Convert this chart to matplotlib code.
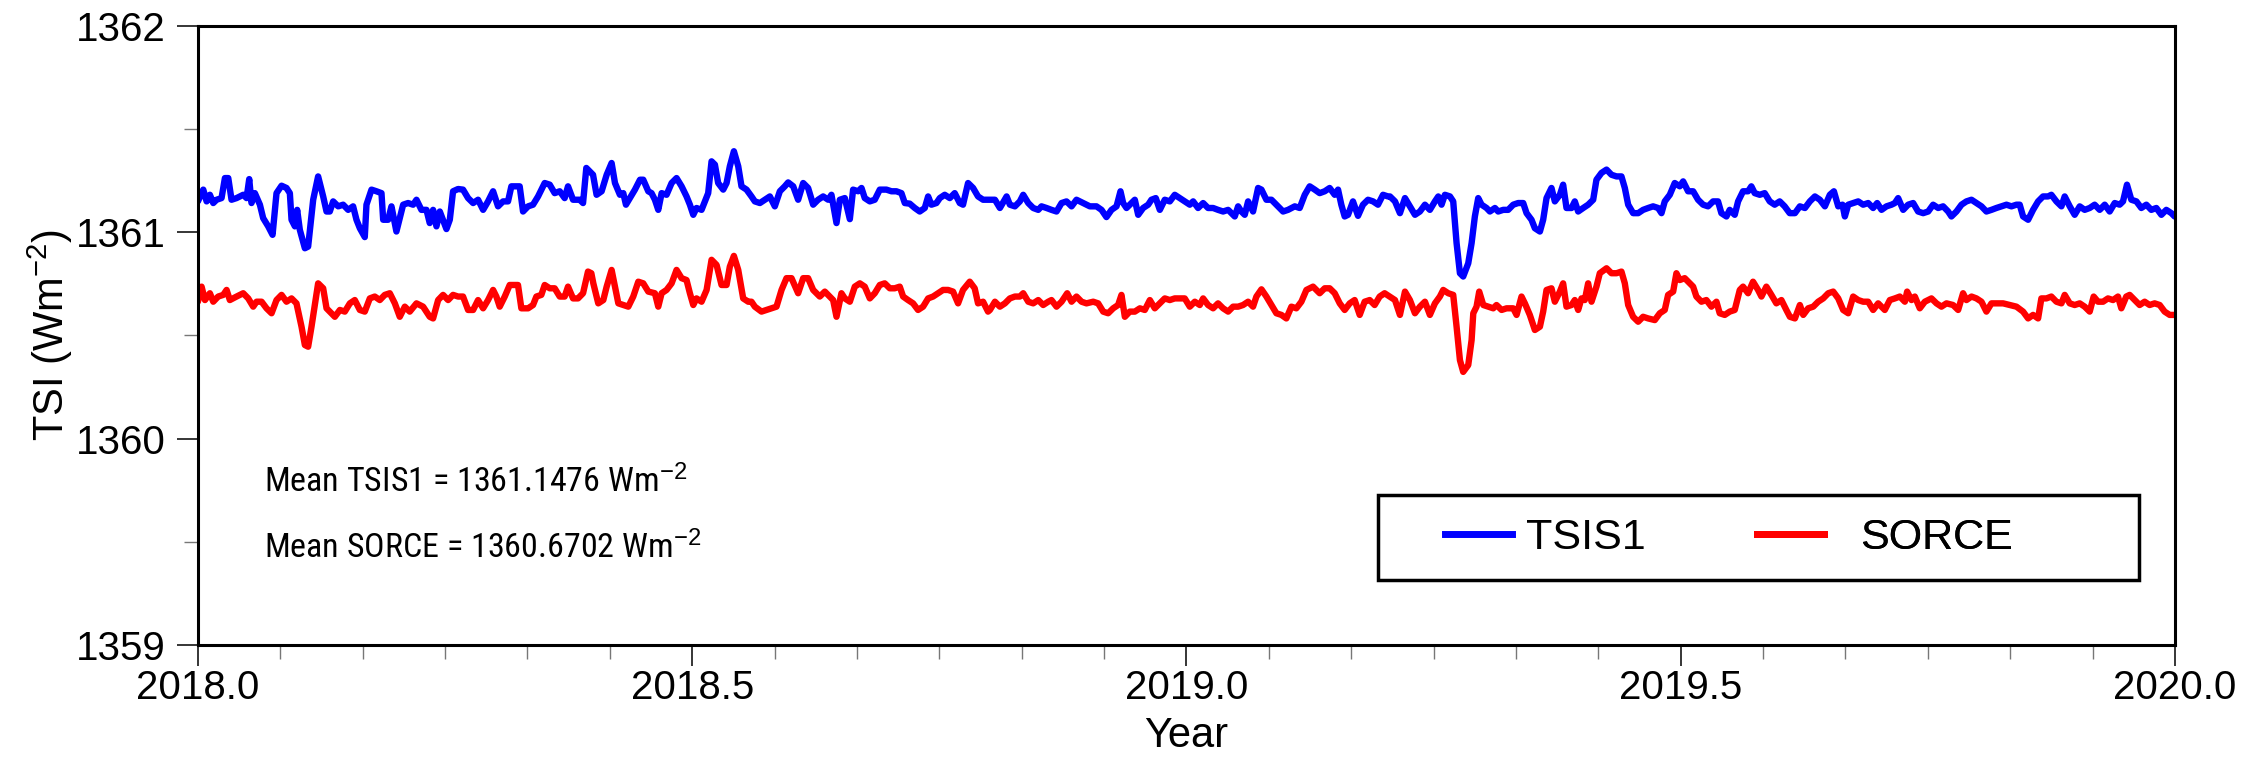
import matplotlib
matplotlib.use("Agg")
import matplotlib.pyplot as plt
from matplotlib import font_manager as fm
from matplotlib.ticker import MultipleLocator, FormatStrFormatter
from matplotlib.patches import Rectangle
from matplotlib.lines import Line2D

# ---------------- data ----------------
tsis_year = [
2018.0000,2018.0054,2018.0088,2018.0121,2018.0155,2018.0189,2018.0239,2018.0273,2018.0307,2018.0340,
2018.0391,2018.0458,2018.0492,2018.0519,2018.0542,2018.0576,2018.0627,2018.0660,2018.0711,2018.0755,
2018.0795,2018.0846,2018.0896,2018.0930,2018.0947,2018.0981,2018.1004,2018.1031,2018.1082,2018.1115,
2018.1166,2018.1216,2018.1267,2018.1301,2018.1334,2018.1368,2018.1419,2018.1469,2018.1520,2018.1570,
2018.1604,2018.1638,2018.1688,2018.1705,2018.1756,2018.1806,2018.1857,2018.1874,2018.1924,2018.1958,
2018.2008,2018.2076,2018.2126,2018.2177,2018.2211,2018.2261,2018.2312,2018.2345,2018.2379,2018.2413,
2018.2447,2018.2514,2018.2548,2018.2581,2018.2632,2018.2682,2018.2733,2018.2784,2018.2834,2018.2885,
2018.2935,2018.2986,2018.3036,2018.3087,2018.3137,2018.3171,2018.3255,2018.3289,2018.3340,2018.3390,
2018.3441,2018.3508,2018.3559,2018.3609,2018.3660,2018.3710,2018.3744,2018.3795,2018.3862,2018.3896,
2018.3929,2018.3997,
2018.4033,2018.4084,2018.4135,2018.4185,2018.4219,2018.4269,2018.4303,2018.4330,2018.4370,2018.4421,
2018.4472,2018.4505,2018.4556,2018.4589,2018.4623,2018.4657,2018.4691,2018.4741,2018.4792,2018.4842,
2018.4893,2018.4943,2018.4977,2018.5011,2018.5044,2018.5095,2018.5129,2018.5162,2018.5196,2018.5230,
2018.5263,2018.5314,2018.5348,2018.5381,2018.5422,2018.5466,2018.5499,2018.5550,2018.5600,2018.5634,
2018.5685,2018.5735,2018.5786,2018.5836,2018.5887,2018.5937,2018.5971,2018.6022,2018.6072,2018.6123,
2018.6173,2018.6224,2018.6274,2018.6325,2018.6376,2018.6409,2018.6460,2018.6494,2018.6544,2018.6595,
2018.6628,2018.6679,2018.6713,2018.6746,2018.6797,2018.6847,2018.6898,2018.6965,2018.7016,2018.7066,
2018.7117,2018.7151,2018.7201,2018.7252,2018.7302,2018.7353,2018.7387,2018.7420,2018.7471,2018.7505,
2018.7555,2018.7606,2018.7656,2018.7707,2018.7740,2018.7791,2018.7842,2018.7892,2018.7943,2018.8010,
2018.8063,2018.8113,2018.8181,2018.8214,2018.8265,2018.8315,2018.8349,2018.8400,2018.8450,2018.8501,
2018.8534,2018.8585,2018.8635,2018.8686,2018.8737,2018.8787,2018.8838,2018.8888,2018.8956,2018.9023,
2018.9090,2018.9141,2018.9191,2018.9242,2018.9293,2018.9333,2018.9360,2018.9394,2018.9427,2018.9478,
2018.9512,2018.9562,2018.9613,2018.9646,2018.9690,2018.9731,2018.9781,2018.9832,2018.9882,2018.9933,
2018.9983,2019.0034,2019.0068,2019.0118,2019.0169,2019.0219,2019.0270,2019.0320,2019.0371,2019.0422,
2019.0489,2019.0523,2019.0556,2019.0590,2019.0624,2019.0674,2019.0725,2019.0759,2019.0809,2019.0860,
2019.0910,2019.0978,2019.1028,2019.1096,2019.1146,2019.1197,2019.1247,2019.1298,2019.1348,2019.1399,
2019.1449,2019.1500,2019.1534,2019.1567,2019.1601,2019.1635,2019.1685,2019.1736,2019.1786,2019.1837,
2019.1888,2019.1938,2019.1989,2019.2039,
2019.2059,2019.2110,2019.2160,2019.2211,2019.2261,2019.2312,2019.2362,2019.2413,2019.2463,2019.2514,
2019.2548,2019.2581,2019.2615,2019.2666,2019.2699,2019.2733,2019.2767,2019.2800,2019.2851,2019.2885,
2019.2918,2019.2952,2019.2986,2019.3036,2019.3070,2019.3121,2019.3154,2019.3205,2019.3255,2019.3306,
2019.3356,2019.3407,2019.3441,2019.3491,2019.3525,2019.3576,2019.3609,2019.3643,2019.3693,2019.3727,
2019.3778,2019.3811,2019.3845,2019.3896,2019.3929,2019.3963,2019.4014,2019.4064,2019.4115,2019.4148,
2019.4199,2019.4250,2019.4300,2019.4351,2019.4401,2019.4435,2019.4469,2019.4519,2019.4570,2019.4620,
2019.4671,2019.4721,2019.4772,2019.4806,2019.4839,2019.4890,2019.4940,2019.4991,2019.5025,2019.5075,
2019.5126,2019.5176,2019.5227,2019.5277,2019.5328,2019.5378,2019.5412,2019.5463,2019.5496,2019.5547,
2019.5581,2019.5631,2019.5682,2019.5715,2019.5749,2019.5800,2019.5850,2019.5901,2019.5951,2019.6002,
2019.6052,2019.6103,
2019.6156,2019.6206,2019.6257,2019.6307,2019.6358,2019.6408,2019.6459,2019.6509,2019.6550,2019.6594,
2019.6637,2019.6661,2019.6695,2019.6745,2019.6796,2019.6846,2019.6897,2019.6947,2019.6988,2019.7032,
2019.7082,2019.7133,2019.7167,2019.7200,2019.7251,2019.7301,2019.7352,2019.7402,2019.7453,2019.7504,
2019.7554,2019.7605,2019.7655,2019.7706,2019.7739,2019.7790,2019.7841,2019.7891,2019.7942,2019.7992,
2019.8043,2019.8093,2019.8144,2019.8194,2019.8245,2019.8296,2019.8346,2019.8397,2019.8430,2019.8464,
2019.8515,2019.8565,2019.8616,2019.8666,2019.8717,2019.8750,2019.8801,2019.8852,2019.8885,2019.8936,
2019.8986,2019.9037,2019.9087,2019.9138,2019.9188,2019.9239,2019.9290,2019.9340,2019.9391,2019.9441,
2019.9475,2019.9515,2019.9559,2019.9610,2019.9660,2019.9711,2019.9761,2019.9812,2019.9863,2019.9913,
2019.9964,2019.9997,
]
tsis_wm2 = [
1361.149,1361.206,1361.149,1361.181,1361.141,1361.157,1361.165,1361.262,1361.262,1361.157,
1361.165,1361.181,1361.165,1361.257,1361.141,1361.189,1361.133,1361.068,1361.028,1360.987,
1361.189,1361.225,1361.214,1361.189,1361.060,1361.028,1361.108,1361.011,1360.922,1360.930,
1361.157,1361.270,1361.173,1361.100,1361.100,1361.149,1361.125,1361.133,1361.108,1361.125,
1361.060,1361.019,1360.976,1361.133,1361.206,1361.198,1361.189,1361.060,1361.060,1361.125,
1361.003,1361.133,1361.141,1361.133,1361.157,1361.108,1361.108,1361.044,1361.108,1361.028,
1361.100,1361.015,1361.060,1361.198,1361.209,1361.206,1361.165,1361.141,1361.157,1361.108,
1361.149,1361.198,1361.125,1361.149,1361.149,1361.222,1361.222,1361.100,1361.125,1361.133,
1361.173,1361.238,1361.230,1361.189,1361.198,1361.165,1361.222,1361.157,1361.157,1361.141,
1361.311,1361.278,
1361.181,1361.198,1361.278,1361.335,1361.238,1361.181,1361.189,1361.133,1361.165,1361.206,
1361.254,1361.254,1361.198,1361.189,1361.157,1361.108,1361.189,1361.181,1361.238,1361.262,
1361.222,1361.173,1361.133,1361.084,1361.117,1361.108,1361.149,1361.189,1361.343,1361.327,
1361.238,1361.206,1361.238,1361.319,1361.392,1361.319,1361.222,1361.206,1361.173,1361.149,
1361.141,1361.157,1361.173,1361.125,1361.198,1361.222,1361.241,1361.222,1361.157,1361.238,
1361.214,1361.133,1361.157,1361.173,1361.157,1361.181,1361.044,1361.157,1361.165,1361.063,
1361.206,1361.198,1361.214,1361.165,1361.149,1361.157,1361.206,1361.206,1361.198,1361.198,
1361.189,1361.141,1361.138,1361.117,1361.100,1361.117,1361.173,1361.133,1361.141,1361.165,
1361.181,1361.165,1361.189,1361.141,1361.133,1361.238,1361.214,1361.173,1361.157,1361.157,
1361.157,1361.117,1361.173,1361.133,1361.125,1361.149,1361.181,1361.141,1361.117,1361.108,
1361.125,1361.117,1361.108,1361.100,1361.141,1361.149,1361.125,1361.157,1361.141,1361.125,
1361.125,1361.108,1361.073,1361.108,1361.125,1361.198,1361.141,1361.117,1361.133,1361.157,
1361.084,1361.117,1361.133,1361.157,1361.165,1361.108,1361.157,1361.149,1361.181,1361.165,
1361.149,1361.133,1361.149,1361.117,1361.141,1361.117,1361.117,1361.108,1361.100,1361.108,
1361.076,1361.125,1361.100,1361.084,1361.149,1361.100,1361.214,1361.206,1361.157,1361.157,
1361.133,1361.100,1361.108,1361.125,1361.117,1361.181,1361.222,1361.206,1361.189,1361.198,
1361.214,1361.181,1361.206,1361.133,1361.076,1361.084,1361.149,1361.079,1361.133,1361.157,
1361.149,1361.133,1361.181,1361.173,
1361.173,1361.149,1361.092,1361.165,1361.125,1361.084,1361.100,1361.133,1361.108,1361.149,
1361.173,1361.133,1361.181,1361.173,1361.149,1360.947,1360.801,1360.785,1360.849,1360.947,
1361.076,1361.165,1361.133,1361.117,1361.100,1361.117,1361.100,1361.108,1361.108,1361.133,
1361.141,1361.141,1361.092,1361.060,1361.019,1361.003,1361.060,1361.165,1361.214,1361.149,
1361.181,1361.230,1361.117,1361.117,1361.149,1361.100,1361.117,1361.133,1361.157,1361.254,
1361.287,1361.303,1361.278,1361.270,1361.270,1361.214,1361.133,1361.092,1361.092,1361.108,
1361.117,1361.125,1361.117,1361.092,1361.149,1361.181,1361.238,1361.222,1361.246,1361.198,
1361.198,1361.157,1361.133,1361.125,1361.149,1361.149,1361.092,1361.076,1361.108,1361.084,
1361.149,1361.198,1361.198,1361.222,1361.189,1361.181,1361.189,1361.149,1361.133,1361.149,
1361.125,1361.092,
1361.092,1361.125,1361.117,1361.149,1361.173,1361.157,1361.125,1361.181,1361.198,1361.125,
1361.133,1361.076,1361.133,1361.141,1361.149,1361.133,1361.141,1361.117,1361.141,1361.108,
1361.125,1361.133,1361.141,1361.165,1361.108,1361.133,1361.141,1361.100,1361.092,1361.100,
1361.133,1361.117,1361.125,1361.100,1361.076,1361.100,1361.133,1361.149,1361.157,1361.141,
1361.125,1361.100,1361.108,1361.117,1361.125,1361.133,1361.125,1361.133,1361.133,1361.076,
1361.060,1361.108,1361.149,1361.173,1361.173,1361.181,1361.149,1361.125,1361.173,1361.125,
1361.084,1361.125,1361.108,1361.117,1361.133,1361.108,1361.133,1361.100,1361.141,1361.133,
1361.149,1361.230,1361.157,1361.149,1361.117,1361.133,1361.108,1361.117,1361.084,1361.108,
1361.092,1361.076,
]

sorce_year = [
2018.0000,2018.0037,2018.0071,2018.0121,2018.0155,2018.0205,2018.0256,2018.0290,2018.0323,2018.0391,
2018.0458,2018.0509,2018.0559,2018.0593,2018.0644,2018.0694,2018.0745,2018.0795,2018.0846,2018.0896,
2018.0947,2018.0997,2018.1048,2018.1082,2018.1115,2018.1149,2018.1216,2018.1267,2018.1301,2018.1351,
2018.1385,2018.1436,2018.1486,2018.1537,2018.1587,2018.1638,2018.1688,2018.1739,2018.1789,2018.1840,
2018.1890,2018.1941,2018.1992,2018.2042,2018.2093,2018.2143,2018.2211,2018.2278,2018.2345,2018.2379,
2018.2430,2018.2480,2018.2531,2018.2581,2018.2632,2018.2682,2018.2733,2018.2784,2018.2834,2018.2885,
2018.2935,2018.2986,2018.3019,2018.3053,2018.3104,2018.3154,2018.3238,2018.3272,2018.3340,2018.3390,
2018.3424,2018.3474,2018.3508,2018.3559,2018.3609,2018.3660,2018.3710,2018.3744,2018.3795,2018.3845,
2018.3896,2018.3946,2018.3980,
2018.4000,2018.4050,2018.4101,2018.4135,2018.4185,2018.4219,2018.4253,2018.4303,2018.4354,2018.4404,
2018.4455,2018.4505,2018.4556,2018.4623,2018.4657,2018.4691,2018.4741,2018.4792,2018.4842,2018.4893,
2018.4943,2018.4977,2018.5011,2018.5044,2018.5095,2018.5146,2018.5196,2018.5247,2018.5297,2018.5348,
2018.5381,2018.5422,2018.5466,2018.5516,2018.5567,2018.5600,2018.5634,2018.5701,2018.5752,2018.5803,
2018.5853,2018.5904,2018.5954,2018.6005,2018.6072,2018.6123,2018.6173,2018.6224,2018.6291,2018.6342,
2018.6392,2018.6426,2018.6460,2018.6510,2018.6544,2018.6595,2018.6645,2018.6696,2018.6746,2018.6797,
2018.6847,2018.6898,2018.6948,2018.6999,2018.7049,2018.7100,2018.7134,2018.7184,2018.7235,2018.7285,
2018.7336,2018.7387,2018.7437,2018.7488,2018.7538,2018.7589,2018.7639,2018.7690,2018.7740,2018.7808,
2018.7858,2018.7892,2018.7943,2018.7993,
2018.8012,2018.8063,2018.8113,2018.8164,2018.8214,2018.8265,2018.8315,2018.8349,2018.8400,2018.8450,
2018.8501,2018.8551,2018.8602,2018.8635,2018.8686,2018.8737,2018.8794,2018.8838,2018.8888,2018.8939,
2018.8989,2018.9057,2018.9107,2018.9158,2018.9208,2018.9259,2018.9309,2018.9343,2018.9377,2018.9427,
2018.9478,2018.9529,2018.9579,2018.9630,2018.9680,2018.9731,2018.9781,2018.9832,2018.9882,2018.9933,
2018.9983,2019.0034,2019.0085,2019.0135,2019.0169,2019.0219,2019.0270,2019.0320,2019.0371,2019.0422,
2019.0472,2019.0523,2019.0573,2019.0624,2019.0674,2019.0708,2019.0759,2019.0809,2019.0860,2019.0910,
2019.0961,2019.1011,2019.1062,2019.1112,2019.1163,2019.1214,2019.1281,2019.1348,2019.1399,2019.1449,
2019.1500,2019.1551,2019.1601,2019.1652,2019.1702,2019.1753,2019.1803,2019.1854,2019.1904,2019.1955,
2019.2005,2019.2056,
2019.2110,2019.2160,2019.2211,2019.2261,2019.2312,2019.2362,2019.2413,2019.2463,2019.2514,2019.2564,
2019.2598,2019.2649,2019.2699,2019.2733,2019.2767,2019.2800,2019.2851,2019.2885,2019.2902,2019.2935,
2019.2962,2019.3003,2019.3053,2019.3104,2019.3137,2019.3188,2019.3239,2019.3306,2019.3340,2019.3390,
2019.3424,2019.3474,2019.3525,2019.3576,2019.3609,2019.3643,2019.3693,2019.3727,2019.3778,2019.3811,
2019.3845,2019.3896,2019.3929,2019.3963,2019.3997,2019.4030,2019.4064,2019.4098,2019.4148,2019.4182,
2019.4250,2019.4300,2019.4351,2019.4401,2019.4435,2019.4469,2019.4519,2019.4570,2019.4620,2019.4671,
2019.4738,2019.4789,2019.4839,2019.4873,2019.4924,2019.4957,2019.4991,2019.5041,2019.5092,2019.5126,
2019.5159,2019.5210,2019.5260,2019.5311,2019.5362,2019.5395,2019.5446,2019.5496,2019.5547,2019.5598,
2019.5631,2019.5682,2019.5732,2019.5783,2019.5817,2019.5867,2019.5918,2019.5968,2019.6019,2019.6069,
2019.6105,2019.6156,2019.6206,2019.6240,2019.6290,2019.6341,2019.6391,2019.6442,2019.6493,2019.6543,
2019.6594,2019.6644,2019.6695,2019.6745,2019.6796,2019.6846,2019.6897,2019.6947,2019.6998,2019.7065,
2019.7116,2019.7167,2019.7217,2019.7268,2019.7291,2019.7335,2019.7369,2019.7419,2019.7470,2019.7537,
2019.7588,2019.7638,2019.7689,2019.7756,2019.7807,2019.7857,2019.7891,2019.7942,2019.7992,2019.8043,
2019.8093,2019.8144,2019.8194,2019.8262,2019.8329,2019.8397,2019.8464,2019.8515,2019.8565,2019.8616,
2019.8649,2019.8700,2019.8750,2019.8801,2019.8852,2019.8885,2019.8936,2019.8986,2019.9037,2019.9087,
2019.9138,2019.9178,2019.9222,2019.9273,2019.9323,2019.9374,2019.9424,2019.9458,2019.9508,2019.9542,
2019.9593,2019.9643,2019.9694,2019.9744,2019.9795,2019.9846,2019.9896,2019.9947,2019.9997,
]
sorce_wm2 = [
1360.663,1360.736,1360.671,1360.704,1360.663,1360.688,1360.696,1360.720,1360.671,1360.688,
1360.704,1360.679,1360.639,1360.663,1360.663,1360.631,1360.607,1360.671,1360.696,1360.663,
1360.679,1360.655,1360.542,1360.453,1360.445,1360.542,1360.752,1360.728,1360.631,1360.607,
1360.590,1360.623,1360.615,1360.655,1360.671,1360.623,1360.615,1360.679,1360.688,1360.671,
1360.696,1360.704,1360.655,1360.590,1360.639,1360.615,1360.655,1360.639,1360.590,1360.582,
1360.671,1360.696,1360.671,1360.696,1360.688,1360.688,1360.623,1360.623,1360.671,1360.631,
1360.671,1360.720,1360.688,1360.639,1360.688,1360.744,1360.744,1360.631,1360.631,1360.647,
1360.688,1360.696,1360.744,1360.728,1360.728,1360.688,1360.688,1360.736,1360.679,1360.679,
1360.704,1360.809,1360.801,
1360.752,1360.655,1360.671,1360.736,1360.817,1360.736,1360.655,1360.647,1360.639,1360.688,
1360.760,1360.752,1360.712,1360.704,1360.639,1360.704,1360.720,1360.752,1360.817,1360.777,
1360.768,1360.704,1360.647,1360.679,1360.663,1360.720,1360.866,1360.841,1360.744,1360.744,
1360.833,1360.885,1360.817,1360.679,1360.663,1360.663,1360.639,1360.615,1360.623,1360.631,
1360.639,1360.720,1360.777,1360.777,1360.704,1360.777,1360.777,1360.720,1360.688,1360.712,
1360.688,1360.671,1360.590,1360.704,1360.679,1360.663,1360.736,1360.752,1360.736,1360.679,
1360.704,1360.744,1360.752,1360.728,1360.728,1360.736,1360.688,1360.671,1360.655,1360.623,
1360.639,1360.679,1360.688,1360.704,1360.720,1360.720,1360.712,1360.655,1360.720,1360.760,
1360.728,1360.655,1360.663,1360.615,
1360.623,1360.663,1360.639,1360.655,1360.679,1360.688,1360.688,1360.704,1360.663,1360.655,
1360.671,1360.647,1360.663,1360.671,1360.639,1360.663,1360.704,1360.663,1360.688,1360.663,
1360.655,1360.663,1360.655,1360.615,1360.607,1360.631,1360.647,1360.696,1360.590,1360.615,
1360.615,1360.631,1360.623,1360.671,1360.631,1360.655,1360.679,1360.671,1360.679,1360.679,
1360.679,1360.639,1360.663,1360.647,1360.679,1360.647,1360.631,1360.655,1360.631,1360.615,
1360.639,1360.639,1360.647,1360.663,1360.639,1360.688,1360.723,1360.688,1360.647,1360.607,
1360.599,1360.582,1360.639,1360.631,1360.663,1360.720,1360.736,1360.704,1360.728,1360.728,
1360.704,1360.655,1360.623,1360.655,1360.671,1360.599,1360.663,1360.671,1360.647,1360.688,
1360.704,1360.688,
1360.671,1360.599,1360.712,1360.671,1360.607,1360.639,1360.663,1360.599,1360.655,1360.688,
1360.720,1360.704,1360.696,1360.542,1360.380,1360.323,1360.356,1360.477,1360.607,1360.639,
1360.712,1360.647,1360.639,1360.631,1360.647,1360.623,1360.631,1360.631,1360.599,1360.688,
1360.655,1360.599,1360.526,1360.542,1360.615,1360.720,1360.728,1360.663,1360.712,1360.752,
1360.639,1360.647,1360.671,1360.623,1360.679,1360.671,1360.752,1360.663,1360.736,1360.801,
1360.825,1360.801,1360.801,1360.809,1360.752,1360.647,1360.590,1360.566,1360.590,1360.582,
1360.574,1360.607,1360.623,1360.696,1360.712,1360.801,1360.768,1360.777,1360.752,1360.736,
1360.688,1360.663,1360.671,1360.639,1360.663,1360.607,1360.599,1360.615,1360.623,1360.720,
1360.736,1360.704,1360.760,1360.720,1360.688,1360.736,1360.696,1360.655,1360.671,1360.623,
1360.590,1360.582,1360.647,1360.599,1360.631,1360.639,1360.663,1360.679,1360.704,1360.712,
1360.679,1360.623,1360.607,1360.688,1360.671,1360.663,1360.663,1360.623,1360.655,1360.623,
1360.671,1360.679,1360.688,1360.663,1360.712,1360.671,1360.688,1360.631,1360.663,1360.679,
1360.655,1360.639,1360.655,1360.647,1360.623,1360.704,1360.671,1360.688,1360.679,1360.663,
1360.615,1360.655,1360.655,1360.655,1360.647,1360.639,1360.615,1360.582,1360.599,1360.582,
1360.679,1360.679,1360.688,1360.663,1360.655,1360.696,1360.655,1360.647,1360.655,1360.639,
1360.615,1360.688,1360.663,1360.663,1360.679,1360.671,1360.688,1360.631,1360.688,1360.696,
1360.671,1360.647,1360.663,1360.647,1360.655,1360.647,1360.615,1360.599,1360.599,
]

series_labels = ["TSIS1", "SORCE"]
series_colors = ["#0000ff", "#ff0000"]
mean_tsis = "1361.1476"
mean_sorce = "1360.6702"
x_range = (2018.0, 2020.0)
y_range = (1359.0, 1362.0)

# ---------------- style ----------------
plt.rcParams['font.family'] = ['Liberation Sans', 'DejaVu Sans']
plt.rcParams['mathtext.fontset'] = 'custom'
plt.rcParams['mathtext.rm'] = 'Liberation Sans'
plt.rcParams['mathtext.it'] = 'Liberation Sans'
plt.rcParams['mathtext.bf'] = 'Liberation Sans'

ann_family = ['Liberation Sans', 'DejaVu Sans']
ann_size = 22
for cand in ['Liberation Sans Narrow', 'Arial Narrow', 'Nimbus Sans Narrow', 'Roboto Condensed']:
    try:
        fm.findfont(cand, fallback_to_default=False)
        ann_family = [cand, 'Liberation Sans']
        ann_size = 24.5
        break
    except Exception:
        pass

fig = plt.figure(figsize=(22.62, 7.57), dpi=100)
ax = fig.add_axes([0.0875, 0.148, 0.874, 0.818])

line_w = 4.6
ax.plot(tsis_year, tsis_wm2, color=series_colors[0], lw=line_w, solid_joinstyle='round',
        solid_capstyle='round')
ax.plot(sorce_year, sorce_wm2, color=series_colors[1], lw=line_w, solid_joinstyle='round',
        solid_capstyle='round')

ax.set_xlim(*x_range)
ax.set_ylim(*y_range)
ax.xaxis.set_major_locator(MultipleLocator(0.5))
ax.xaxis.set_minor_locator(MultipleLocator(1/12))
ax.xaxis.set_major_formatter(FormatStrFormatter('%.1f'))
ax.yaxis.set_major_locator(MultipleLocator(1))
ax.yaxis.set_minor_locator(MultipleLocator(0.5))
ax.yaxis.set_major_formatter(FormatStrFormatter('%d'))

for s in ax.spines.values():
    s.set_linewidth(2.2)
ax.tick_params(which='major', direction='out', length=15, width=1.1, color='black',
               labelsize=29, top=False, right=False)
ax.tick_params(axis='x', which='major', pad=2)
ax.tick_params(axis='y', which='major', pad=8)
ax.tick_params(which='minor', direction='out', length=10, width=1.0, color='#777777',
               top=False, right=False)

ax.set_xlabel('Year', fontsize=30, labelpad=7)
ax.set_ylabel('TSI (Wm$^{-2}$)', fontsize=30, labelpad=1)

ax.text(0.0334, 0.247, 'Mean TSIS1 = ' + mean_tsis + ' Wm$^{-2}$', transform=ax.transAxes,
        fontsize=ann_size, family=ann_family, va='baseline', ha='left')
ax.text(0.0334, 0.141, 'Mean SORCE = ' + mean_sorce + ' Wm$^{-2}$', transform=ax.transAxes,
        fontsize=ann_size, family=ann_family, va='baseline', ha='left')

# legend: one entry per series, framed by a box
leg_x = [0.6308, 0.7886]
leg_pad = [0.33, 0.85]
for i in range(2):
    h = Line2D([], [], color=series_colors[i], lw=5.0)
    lg = ax.legend([h], [series_labels[i]], loc='center left', bbox_to_anchor=(leg_x[i], 0.172),
                   frameon=False, fontsize=31, handlelength=1.55, handletextpad=leg_pad[i],
                   borderpad=0, borderaxespad=0)
    ax.add_artist(lg)
ax.add_patch(Rectangle((0.597, 0.105), 0.385, 0.137, transform=ax.transAxes, fill=False,
                       lw=2.5, ec='black', zorder=5))

fig.savefig('out.png', dpi=100)
